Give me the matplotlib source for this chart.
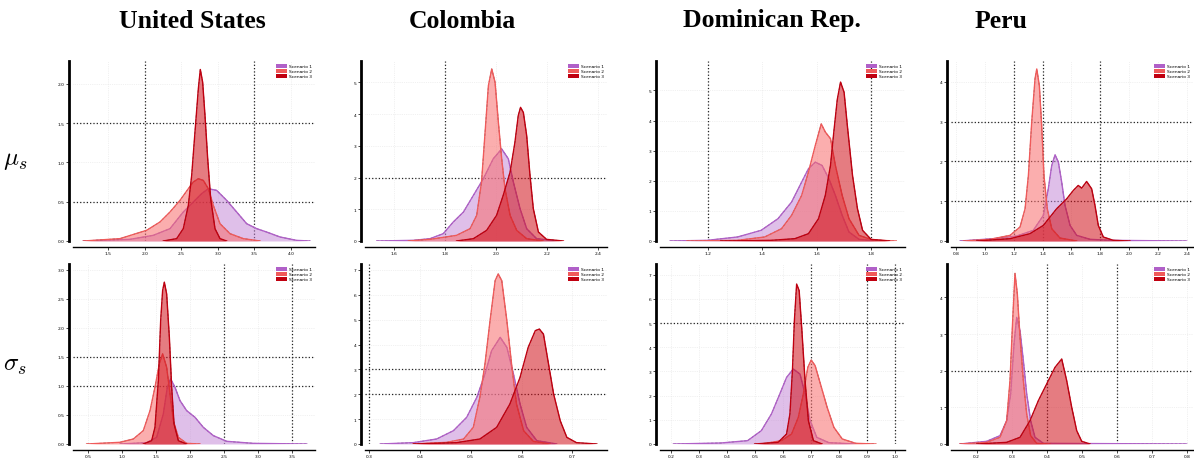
import matplotlib
matplotlib.use("Agg")
import matplotlib.pyplot as plt
from matplotlib.patches import Patch

countries = ["United States", "Colombia", "Dominican Rep.", "Peru"]
scenarios = ["Scenario 1", "Scenario 2", "Scenario 3"]

# posterior densities, one x/y list per scenario and panel
# --- mu_s ---
us_mu_x1 = [1.158, 1.797, 2.116, 2.345, 2.527, 2.664, 2.778, 2.870, 2.984, 3.121, 3.258, 3.395, 3.532, 3.669, 3.852, 4.080, 4.262]
us_mu_y1 = [0, 0.021, 0.072, 0.157, 0.369, 0.496, 0.602, 0.665, 0.644, 0.517, 0.369, 0.220, 0.157, 0.114, 0.051, 0.008, 0]
us_mu_x2 = [1.158, 1.660, 2.025, 2.208, 2.345, 2.482, 2.596, 2.664, 2.733, 2.801, 2.870, 2.938, 3.030, 3.167, 3.349, 3.578]
us_mu_y2 = [0, 0.03, 0.136, 0.242, 0.369, 0.517, 0.665, 0.750, 0.792, 0.771, 0.665, 0.453, 0.220, 0.093, 0.03, 0]
us_mu_x3 = [2.253, 2.436, 2.527, 2.596, 2.642, 2.687, 2.733, 2.760, 2.792, 2.824, 2.861, 2.902, 2.961, 3.030, 3.121]
us_mu_y3 = [0, 0.03, 0.157, 0.453, 0.835, 1.385, 1.936, 2.182, 2.021, 1.597, 1.046, 0.538, 0.157, 0.03, 0]

co_mu_x1 = [1.531, 1.675, 1.740, 1.792, 1.831, 1.871, 1.910, 1.949, 1.988, 2.021, 2.047, 2.067, 2.093, 2.119, 2.158, 2.237]
co_mu_y1 = [0, 0.021, 0.073, 0.231, 0.597, 0.912, 1.436, 1.96, 2.59, 2.90, 2.59, 1.85, 1.02, 0.388, 0.073, 0]
co_mu_x2 = [1.655, 1.740, 1.844, 1.897, 1.923, 1.942, 1.956, 1.969, 1.982, 1.995, 2.008, 2.021, 2.034, 2.054, 2.080, 2.119, 2.184]
co_mu_y2 = [0, 0.052, 0.178, 0.388, 0.807, 1.855, 3.427, 4.895, 5.419, 5.0, 3.742, 2.589, 1.646, 0.807, 0.335, 0.073, 0]
co_mu_x3 = [1.844, 1.910, 1.962, 2.001, 2.027, 2.054, 2.073, 2.086, 2.095, 2.106, 2.119, 2.132, 2.145, 2.165, 2.197, 2.263]
co_mu_y3 = [0, 0.073, 0.335, 0.807, 1.436, 2.17, 3.11, 3.95, 4.21, 4.05, 3.32, 2.07, 1.02, 0.283, 0.052, 0]

do_mu_x1 = [1.061, 1.198, 1.309, 1.396, 1.458, 1.508, 1.545, 1.570, 1.595, 1.620, 1.645, 1.669, 1.694, 1.719, 1.756, 1.819]
do_mu_y1 = [0, 0.022, 0.133, 0.354, 0.741, 1.294, 1.958, 2.40, 2.62, 2.51, 2.07, 1.515, 0.852, 0.299, 0.055, 0]
do_mu_x2 = [1.123, 1.309, 1.409, 1.471, 1.508, 1.545, 1.570, 1.595, 1.617, 1.632, 1.651, 1.669, 1.694, 1.719, 1.756, 1.806, 1.893]
do_mu_y2 = [0, 0.022, 0.133, 0.409, 0.852, 1.515, 2.29, 3.17, 3.89, 3.62, 3.40, 2.51, 1.515, 0.741, 0.188, 0.033, 0]
do_mu_x3 = [1.247, 1.433, 1.520, 1.570, 1.607, 1.632, 1.651, 1.663, 1.676, 1.688, 1.701, 1.713, 1.732, 1.750, 1.769, 1.800, 1.868]
do_mu_y3 = [0, 0.022, 0.077, 0.243, 0.741, 1.515, 2.51, 3.6, 4.7, 5.28, 4.94, 3.83, 2.18, 1.08, 0.354, 0.055, 0]

pe_mu_x1 = [0.828, 1.059, 1.221, 1.336, 1.406, 1.440, 1.464, 1.487, 1.510, 1.533, 1.556, 1.591, 1.637, 1.730, 1.868, 2.400]
pe_mu_y1 = [0, 0.058, 0.125, 0.267, 0.643, 1.31, 1.896, 2.163, 1.98, 1.478, 0.893, 0.392, 0.142, 0.042, 0.017, 0]
pe_mu_x2 = [0.851, 1.036, 1.175, 1.244, 1.279, 1.302, 1.325, 1.348, 1.360, 1.378, 1.394, 1.410, 1.433, 1.464, 1.521, 1.637]
pe_mu_y2 = [0, 0.042, 0.142, 0.351, 0.81, 1.645, 2.98, 4.07, 4.32, 3.90, 2.90, 1.645, 0.81, 0.309, 0.075, 0]
pe_mu_x3 = [0.943, 1.175, 1.313, 1.406, 1.498, 1.568, 1.614, 1.648, 1.672, 1.706, 1.741, 1.764, 1.787, 1.822, 1.891, 2.007]
pe_mu_y3 = [0, 0.058, 0.184, 0.392, 0.81, 1.06, 1.27, 1.395, 1.328, 1.495, 1.31, 0.893, 0.392, 0.1, 0.017, 0]

# --- sigma_s ---
us_sd_x1 = [0.967, 1.360, 1.508, 1.606, 1.665, 1.714, 1.778, 1.852, 1.950, 2.073, 2.196, 2.344, 2.541, 2.934, 3.721]
us_sd_y1 = [0, 0.023, 0.115, 0.517, 0.977, 1.121, 0.977, 0.747, 0.575, 0.46, 0.287, 0.144, 0.046, 0.011, 0]
us_sd_x2 = [0.475, 0.967, 1.164, 1.311, 1.410, 1.483, 1.547, 1.596, 1.655, 1.705, 1.754, 1.828, 1.950, 2.147]
us_sd_y2 = [0, 0.029, 0.086, 0.23, 0.575, 0.977, 1.379, 1.552, 1.322, 0.862, 0.402, 0.115, 0.011, 0]
us_sd_x3 = [1.311, 1.434, 1.483, 1.533, 1.567, 1.596, 1.621, 1.655, 1.695, 1.729, 1.764, 1.828, 1.950]
us_sd_y3 = [0, 0.057, 0.287, 1.092, 2.126, 2.644, 2.787, 2.586, 1.839, 0.977, 0.345, 0.057, 0]

co_sd_x1 = [0.322, 0.387, 0.433, 0.466, 0.492, 0.512, 0.528, 0.541, 0.558, 0.571, 0.584, 0.597, 0.610, 0.630, 0.669]
co_sd_y1 = [0, 0.054, 0.201, 0.536, 1.072, 1.877, 2.815, 3.75, 4.29, 3.89, 2.815, 1.608, 0.67, 0.134, 0]
co_sd_x2 = [0.387, 0.453, 0.486, 0.505, 0.518, 0.528, 0.538, 0.548, 0.554, 0.561, 0.571, 0.581, 0.590, 0.604, 0.623, 0.656]
co_sd_y2 = [0, 0.067, 0.201, 0.670, 1.877, 3.217, 4.96, 6.57, 6.84, 6.57, 4.96, 3.08, 1.608, 0.536, 0.107, 0]
co_sd_x3 = [0.387, 0.472, 0.518, 0.551, 0.577, 0.597, 0.613, 0.627, 0.635, 0.643, 0.653, 0.663, 0.676, 0.689, 0.708, 0.748]
co_sd_y3 = [0, 0.054, 0.201, 0.67, 1.608, 2.68, 3.887, 4.56, 4.623, 4.42, 3.217, 2.01, 0.938, 0.268, 0.054, 0]

do_sd_x1 = [0.208, 0.377, 0.473, 0.522, 0.558, 0.588, 0.612, 0.636, 0.660, 0.678, 0.696, 0.720, 0.763, 0.859]
do_sd_y1 = [0, 0.041, 0.138, 0.551, 1.24, 2.07, 2.75, 3.10, 2.89, 2.07, 0.964, 0.275, 0.055, 0]
do_sd_x2 = [0.522, 0.594, 0.630, 0.654, 0.672, 0.688, 0.700, 0.714, 0.733, 0.757, 0.781, 0.811, 0.859, 0.931]
do_sd_y2 = [0, 0.138, 0.413, 1.10, 2.07, 3.17, 3.47, 3.24, 2.48, 1.515, 0.689, 0.207, 0.028, 0]
do_sd_x3 = [0.498, 0.582, 0.612, 0.624, 0.633, 0.640, 0.648, 0.657, 0.666, 0.678, 0.690, 0.708, 0.739]
do_sd_y3 = [0, 0.069, 0.413, 1.24, 3.03, 5.10, 6.61, 6.34, 4.82, 2.62, 0.964, 0.138, 0]

pe_sd_x1 = [0.1525, 0.2285, 0.2665, 0.2855, 0.2969, 0.3064, 0.314, 0.3235, 0.333, 0.3425, 0.3538, 0.3662, 0.390, 0.798]
pe_sd_y1 = [0, 0.073, 0.227, 0.636, 1.364, 2.727, 3.455, 3.091, 2.273, 1.364, 0.636, 0.182, 0.018, 0]
pe_sd_x2 = [0.1525, 0.2285, 0.2665, 0.2855, 0.295, 0.3026, 0.3092, 0.3159, 0.3235, 0.333, 0.3425, 0.3538, 0.371, 0.409]
pe_sd_y2 = [0, 0.045, 0.182, 0.636, 1.727, 3.364, 4.655, 4.09, 2.909, 1.727, 0.818, 0.227, 0.018, 0]
pe_sd_x3 = [0.2, 0.2855, 0.3235, 0.352, 0.3757, 0.3994, 0.4232, 0.4422, 0.4564, 0.4707, 0.4849, 0.4992, 0.5229]
pe_sd_y3 = [0, 0.045, 0.182, 0.636, 1.182, 1.636, 2.091, 2.318, 1.727, 1.0, 0.364, 0.073, 0]

# axis ticks per panel
us_mu_xt = [1.5, 2.0, 2.5, 3.0, 3.5, 4.0]
us_mu_yt = [0.0, 0.5, 1.0, 1.5, 2.0]
co_mu_xt = [1.6, 1.8, 2.0, 2.2, 2.4]
co_mu_yt = [0, 1, 2, 3, 4, 5]
do_mu_xt = [1.2, 1.4, 1.6, 1.8]
do_mu_yt = [0, 1, 2, 3, 4, 5]
pe_mu_xt = [0.8, 1.0, 1.2, 1.4, 1.6, 1.8, 2.0, 2.2, 2.4]
pe_mu_yt = [0, 1, 2, 3, 4]
us_sd_xt = [0.5, 1.0, 1.5, 2.0, 2.5, 3.0, 3.5]
us_sd_yt = [0.0, 0.5, 1.0, 1.5, 2.0, 2.5, 3.0]
co_sd_xt = [0.3, 0.4, 0.5, 0.6, 0.7]
co_sd_yt = [0, 1, 2, 3, 4, 5, 6, 7]
do_sd_xt = [0.2, 0.3, 0.4, 0.5, 0.6, 0.7, 0.8, 0.9, 1.0]
do_sd_yt = [0, 1, 2, 3, 4, 5, 6, 7]
pe_sd_xt = [0.2, 0.3, 0.4, 0.5, 0.6, 0.7, 0.8]
pe_sd_yt = [0, 1, 2, 3, 4]

colors = ["#c080d4", "#f86c6c", "#d0101a"]
fill_alpha = [0.5, 0.55, 0.55]
line_colors = ["#b060c8", "#f05a5a", "#c00010"]

panels = [
    # row, col, curves, xlim, ylim, xticks, yticks, dark vlines, dark hlines
    (0, 0, [(us_mu_x1, us_mu_y1), (us_mu_x2, us_mu_y2), (us_mu_x3, us_mu_y3)],
     (1.016, 4.331), (0, 2.29), us_mu_xt, us_mu_yt, [2.0, 3.5], [0.5, 1.5]),
    (0, 1, [(co_mu_x1, co_mu_y1), (co_mu_x2, co_mu_y2), (co_mu_x3, co_mu_y3)],
     (1.485, 2.434), (0, 5.67), co_mu_xt, co_mu_yt, [1.8], [2]),
    (0, 2, [(do_mu_x1, do_mu_y1), (do_mu_x2, do_mu_y2), (do_mu_x3, do_mu_y3)],
     (1.024, 1.925), (0, 5.98), do_mu_xt, do_mu_yt, [1.2, 1.8], []),
    (0, 3, [(pe_mu_x1, pe_mu_y1), (pe_mu_x2, pe_mu_y2), (pe_mu_x3, pe_mu_y3)],
     (0.765, 2.444), (0, 4.52), pe_mu_xt, pe_mu_yt, [1.2, 1.4, 1.8], [1, 2, 3]),
    (1, 0, [(us_sd_x1, us_sd_y1), (us_sd_x2, us_sd_y2), (us_sd_x3, us_sd_y3)],
     (0.274, 3.843), (0, 3.10), us_sd_xt, us_sd_yt, [2.5, 3.5], [1.0, 1.5]),
    (1, 1, [(co_sd_x1, co_sd_y1), (co_sd_x2, co_sd_y2), (co_sd_x3, co_sd_y3)],
     (0.292, 0.768), (0, 7.24), co_sd_xt, co_sd_yt, [0.3], [2, 3]),
    (1, 2, [(do_sd_x1, do_sd_y1), (do_sd_x2, do_sd_y2), (do_sd_x3, do_sd_y3)],
     (0.160, 1.035), (0, 7.44), do_sd_xt, do_sd_yt, [0.7, 0.9, 1.0], [5]),
    (1, 3, [(pe_sd_x1, pe_sd_y1), (pe_sd_x2, pe_sd_y2), (pe_sd_x3, pe_sd_y3)],
     (0.127, 0.816), (0, 4.91), pe_sd_xt, pe_sd_yt, [0.4, 0.6], [2]),
]

W, H = 1194, 460
fig = plt.figure(figsize=(W / 100, H / 100), dpi=100)

col_left = [73, 365, 660, 951]
col_width = [242, 242, 245, 242]
row_top = [62, 265]
row_height = 180


def draw_panel(ax, curves, xlim, ylim, xticks, yticks, vlines, hlines):
    ax.set_xlim(*xlim)
    ax.set_ylim(*ylim)
    ax.set_xticks(xticks)
    ax.set_yticks(yticks)
    ax.grid(True, color="#e4e4e4", linestyle=":", linewidth=0.5)
    for v in vlines:
        ax.axvline(v, color="#222222", linestyle=":", linewidth=0.9, zorder=1)
    for h in hlines:
        ax.axhline(h, color="#222222", linestyle=":", linewidth=0.9, zorder=1)
    for i, (xs, ys) in enumerate(curves):
        ax.fill_between(xs, ys, 0, color=colors[i], alpha=fill_alpha[i], linewidth=0, zorder=2 + i)
        ax.plot(xs, ys, color="#333333", linestyle=(0, (3, 2)), linewidth=0.6,
                alpha=0.8, zorder=2 + i)
        ax.plot(xs, ys, color=line_colors[i], linewidth=1.0, zorder=2 + i)
    for side in ["top", "right"]:
        ax.spines[side].set_visible(False)
    ax.spines["left"].set_linewidth(2.0)
    ax.spines["left"].set_position(("outward", 3))
    ax.spines["bottom"].set_linewidth(1.0)
    ax.spines["bottom"].set_position(("outward", 4))
    ax.tick_params(labelsize=3.2, length=2, width=0.5, pad=1)
    ax.set_axisbelow(True)
    handles = [Patch(facecolor=c, edgecolor="none") for c in line_colors]
    ax.legend(handles, scenarios, loc="upper right", fontsize=3.2, frameon=False,
              handlelength=2.5, handleheight=1.0, borderaxespad=0.2,
              labelspacing=0.1, handletextpad=0.5)


for row, col, curves, xlim, ylim, xt, yt, vl, hl in panels:
    left = col_left[col] / W
    bottom = 1 - (row_top[row] + row_height) / H
    ax = fig.add_axes([left, bottom, col_width[col] / W, row_height / H])
    draw_panel(ax, curves, xlim, ylim, xt, yt, vl, hl)

plt.rcParams["mathtext.fontset"] = "cm"
title_x = [192, 462, 772, 1001]
for name, x in zip(countries, title_x):
    fig.text(x / W, 1 - 21 / H, name, ha="center", va="center",
             fontsize=18.5, fontweight="bold", family="Liberation Serif")

fig.text(15 / W, 1 - 160 / H, r"$\mu_s$", ha="center", va="center", fontsize=18)
fig.text(15 / W, 1 - 365 / H, r"$\sigma_s$", ha="center", va="center", fontsize=18)

fig.savefig("out.png", dpi=100)
